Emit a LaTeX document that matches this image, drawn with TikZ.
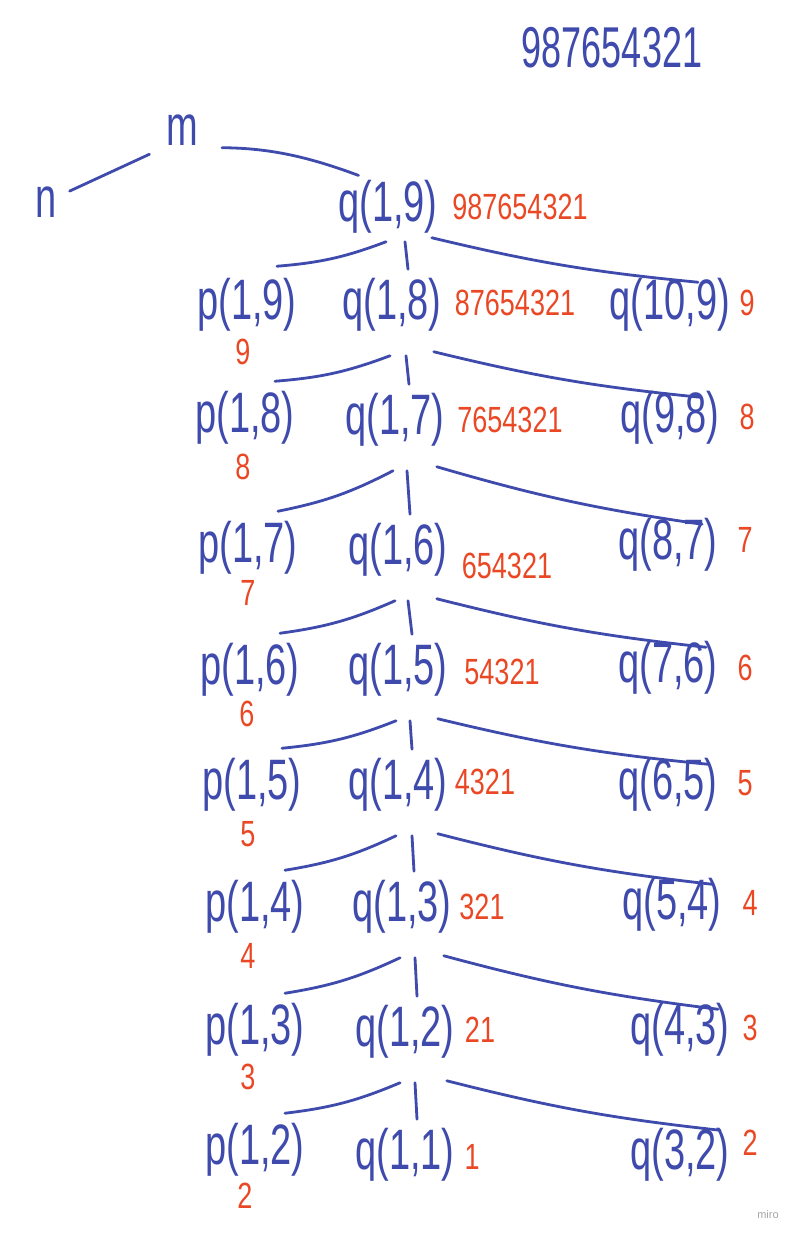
\documentclass[tikz,border=0pt]{standalone}
\usepackage{fontspec}
\setmainfont{Liberation Sans}
\usepackage{graphicx}
\definecolor{handblue}{RGB}{63,74,173}
\definecolor{handred}{RGB}{234,72,36}
\newcommand{\tall}[1]{\scalebox{1}[1.5]{#1}}
\newcommand{\redtall}[1]{\scalebox{1}[1.35]{#1}}

\begin{document}
\begin{tikzpicture}[x=1pt,y=-1pt,
    term/.style={text=handblue,font=\fontsize{38}{42}\selectfont,inner sep=2pt},
    digits/.style={text=handred,font=\fontsize{27}{29}\selectfont,inner sep=1pt},
    branch/.style={draw=handblue,line width=2.8pt,line cap=round}]
  \useasboundingbox[fill=white] (0,0) rectangle (807,1238);

  % header and root
  \node[term,font=\fontsize{36}{38}\selectfont] (word) at (612,48) {\scalebox{1}[1.6]{987654321}};
  \node[term] (n) at (46,202) {\tall{n}};
  \node[term] (m) at (182,130) {\tall{m}};
  \node[term] (q19) at (388,207) {\tall{q(1,9)}};
  \node[digits] (r19) at (520,207) {\redtall{987654321}};
  \draw[branch,shorten <=12pt,shorten >=16pt] (n) -- (m.south west);
  \draw[branch,shorten <=22pt,shorten >=8pt] (m.south east) to[bend left=10] ([xshift=-22pt]q19.north);

  % level 1
  \node[term] (p19) at (247,305) {\tall{p(1,9)}};
  \node[term] (q18) at (392,305) {\tall{q(1,8)}};
  \node[term] (q109) at (670,305) {\tall{q(10,9)}};
  \node[digits] (s19) at (243,352) {\redtall{9}};
  \node[digits] (r18) at (515,303) {\redtall{87654321}};
  \node[digits] (t109) at (747,303) {\redtall{9}};
  \draw[branch] ([shift={(-2pt,-6pt)}]q19.south) to[bend left=8] ([shift={(30pt,10pt)}]p19.north);
  \draw[branch] ([shift={(17pt,-6pt)}]q19.south) -- ([shift={(16pt,7pt)}]q18.north);
  \draw[branch] ([shift={(-8pt,-2pt)}]q19.south east) to[bend right=4] ([shift={(28pt,-6pt)}]q109.north);

  % level 2
  \node[term] (p18) at (245,418) {\tall{p(1,8)}};
  \node[term] (q17) at (395,420) {\tall{q(1,7)}};
  \node[term] (q98) at (670,418) {\tall{q(9,8)}};
  \node[digits] (s18) at (243,467) {\redtall{8}};
  \node[digits] (r17) at (510,420) {\redtall{7654321}};
  \node[digits] (t98) at (747,417) {\redtall{8}};
  \draw[branch] ([shift={(-2pt,-22pt)}]q18.south) to[bend left=8] ([shift={(30pt,8pt)}]p18.north);
  \draw[branch] ([shift={(14pt,-22pt)}]q18.south) -- ([shift={(14pt,7pt)}]q17.north);
  \draw[branch] ([shift={(-10pt,-18pt)}]q18.south east) to[bend right=4] ([shift={(30pt,-8pt)}]q98.north);

  % level 3
  \node[term] (p17) at (248,548) {\tall{p(1,7)}};
  \node[term] (q16) at (398,550) {\tall{q(1,6)}};
  \node[term] (q87) at (668,545) {\tall{q(8,7)}};
  \node[digits] (s17) at (248,593) {\redtall{7}};
  \node[digits] (r16) at (507,566) {\redtall{654321}};
  \node[digits] (t87) at (745,540) {\redtall{7}};
  \draw[branch] ([shift={(-2pt,-22pt)}]q17.south) to[bend left=8] ([shift={(30pt,8pt)}]p17.north);
  \draw[branch] ([shift={(12pt,-22pt)}]q17.south) -- ([shift={(12pt,7pt)}]q16.north);
  \draw[branch] ([shift={(-10pt,-18pt)}]q17.south east) to[bend right=4] ([shift={(34pt,-8pt)}]q87.north);

  % level 4
  \node[term] (p16) at (250,670) {\tall{p(1,6)}};
  \node[term] (q15) at (398,670) {\tall{q(1,5)}};
  \node[term] (q76) at (668,668) {\tall{q(7,6)}};
  \node[digits] (s16) at (247,714) {\redtall{6}};
  \node[digits] (r15) at (502,672) {\redtall{54321}};
  \node[digits] (t76) at (745,668) {\redtall{6}};
  \draw[branch] ([shift={(-3pt,-22pt)}]q16.south) to[bend left=8] ([shift={(30pt,8pt)}]p16.north);
  \draw[branch] ([shift={(10pt,-22pt)}]q16.south) -- ([shift={(14pt,7pt)}]q15.north);
  \draw[branch] ([shift={(-13pt,-20pt)}]q16.south east) to[bend right=4] ([shift={(38pt,-8pt)}]q76.north);

  % level 5
  \node[term] (p15) at (252,785) {\tall{p(1,5)}};
  \node[term] (q14) at (398,785) {\tall{q(1,4)}};
  \node[term] (q65) at (668,785) {\tall{q(6,5)}};
  \node[digits] (s15) at (248,834) {\redtall{5}};
  \node[digits] (r14) at (485,782) {\redtall{4321}};
  \node[digits] (t65) at (745,783) {\redtall{5}};
  \draw[branch] ([shift={(-2pt,-22pt)}]q15.south) to[bend left=8] ([shift={(30pt,8pt)}]p15.north);
  \draw[branch] ([shift={(12pt,-22pt)}]q15.south) -- ([shift={(14pt,7pt)}]q14.north);
  \draw[branch] ([shift={(-12pt,-20pt)}]q15.south east) to[bend right=4] ([shift={(40pt,-8pt)}]q65.north);

  % level 6
  \node[term] (p14) at (255,907) {\tall{p(1,4)}};
  \node[term] (q13) at (402,907) {\tall{q(1,3)}};
  \node[term] (q54) at (672,905) {\tall{q(5,4)}};
  \node[digits] (s14) at (248,956) {\redtall{4}};
  \node[digits] (r13) at (482,907) {\redtall{321}};
  \node[digits] (t54) at (750,903) {\redtall{4}};
  \draw[branch] ([shift={(-2pt,-22pt)}]q14.south) to[bend left=8] ([shift={(30pt,8pt)}]p14.north);
  \draw[branch] ([shift={(14pt,-22pt)}]q14.south) -- ([shift={(12pt,7pt)}]q13.north);
  \draw[branch] ([shift={(-12pt,-20pt)}]q14.south east) to[bend right=4] ([shift={(40pt,-8pt)}]q54.north);

  % level 7
  \node[term] (p13) at (255,1030) {\tall{p(1,3)}};
  \node[term] (q12) at (405,1032) {\tall{q(1,2)}};
  \node[term] (q43) at (680,1030) {\tall{q(4,3)}};
  \node[digits] (s13) at (248,1077) {\redtall{3}};
  \node[digits] (r12) at (480,1030) {\redtall{21}};
  \node[digits] (t43) at (750,1028) {\redtall{3}};
  \draw[branch] ([shift={(-2pt,-22pt)}]q13.south) to[bend left=8] ([shift={(30pt,8pt)}]p13.north);
  \draw[branch] ([shift={(13pt,-22pt)}]q13.south) -- ([shift={(12pt,7pt)}]q12.north);
  \draw[branch] ([shift={(-10pt,-20pt)}]q13.south east) to[bend right=4] ([shift={(38pt,-8pt)}]q43.north);

  % level 8
  \node[term] (p12) at (255,1150) {\tall{p(1,2)}};
  \node[term] (q11) at (405,1155) {\tall{q(1,1)}};
  \node[term] (q32) at (680,1155) {\tall{q(3,2)}};
  \node[digits] (s12) at (245,1196) {\redtall{2}};
  \node[digits] (r11) at (472,1157) {\redtall{1}};
  \node[digits] (t32) at (750,1143) {\redtall{2}};
  \draw[branch] ([shift={(-5pt,-22pt)}]q12.south) to[bend left=8] ([shift={(30pt,8pt)}]p12.north);
  \draw[branch] ([shift={(10pt,-22pt)}]q12.south) -- ([shift={(12pt,7pt)}]q11.north);
  \draw[branch] ([shift={(-10pt,-20pt)}]q12.south east) to[bend right=4] ([shift={(40pt,-4pt)}]q32.north);

  \node[text=black!35,font=\fontsize{11}{12}\selectfont] (miro) at (768,1215) {miro};
\end{tikzpicture}
\end{document}
